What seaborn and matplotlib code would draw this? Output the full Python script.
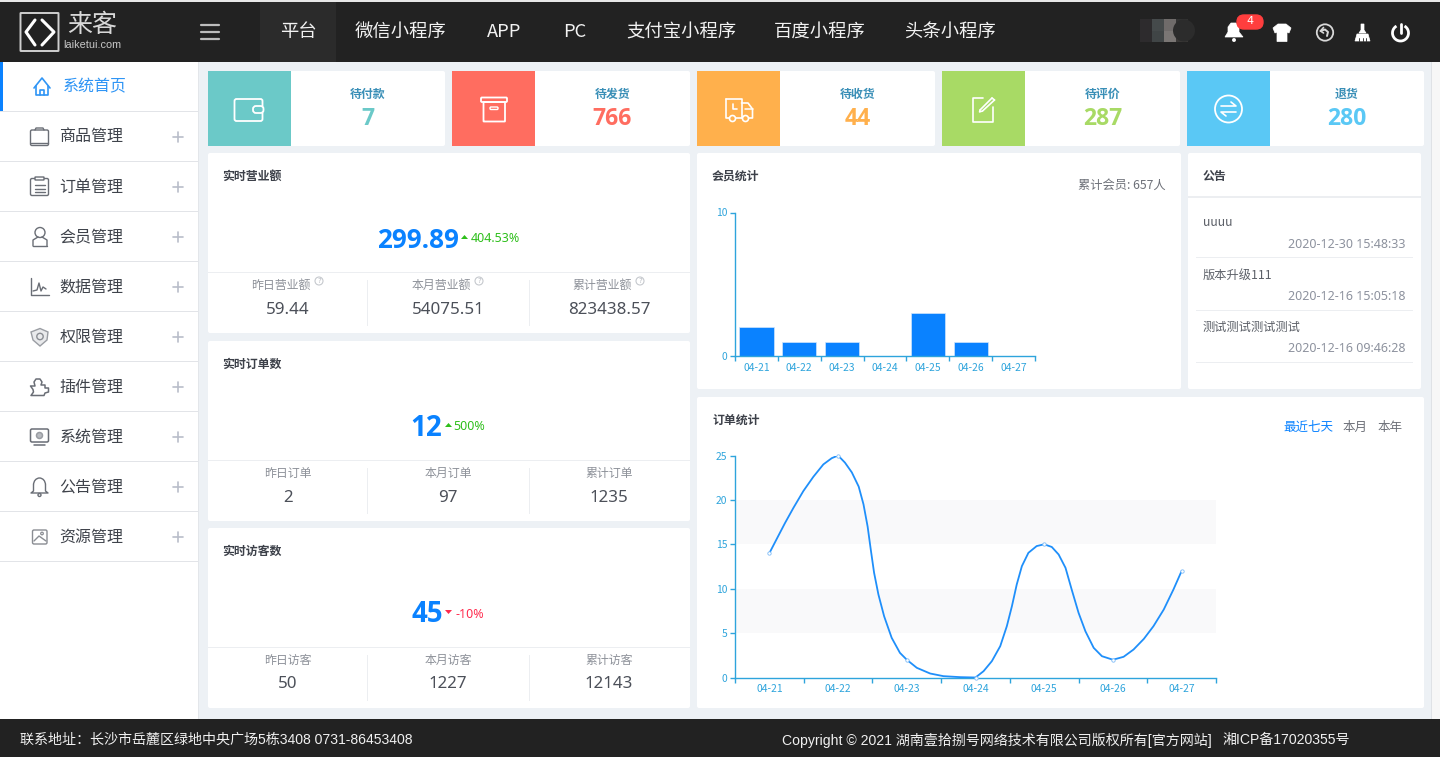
import matplotlib
matplotlib.use("Agg")
import matplotlib.pyplot as plt
from matplotlib.patches import Rectangle, FancyBboxPatch, Circle, Polygon, Arc
import numpy as np
import pandas as pd
import seaborn as sns

sns.set_theme(style="white")
plt.rcParams['font.family'] = ['Noto Sans CJK SC', 'DejaVu Sans']

# ---------- data ----------
days = ["04-21", "04-22", "04-23", "04-24", "04-25", "04-26", "04-27"]
member_counts = [2, 1, 1, 0, 3, 1, 0]
order_counts = [14, 25, 2, 0, 15, 2, 12]
# the smooth order curve (day index, orders)
curve_day = [0, .107, .228, .35, .495, .64, .786, .908, 1, 1.10, 1.20, 1.30, 1.37, 1.43, 1.476, 1.524, 1.587,
             1.67, 1.78, 1.90, 2, 2.146, 2.34, 2.534, 2.777, 3, 3.117, 3.238, 3.36, 3.456, 3.53, 3.60, 3.675,
             3.77, 3.89, 4, 4.11, 4.21, 4.31, 4.40, 4.50, 4.60, 4.72, 4.84, 5, 5.155, 5.30, 5.45, 5.59,
             5.74, 5.88, 6]
curve_orders = [14, 15.6, 17.4, 19.1, 21.0, 22.6, 24.0, 24.7, 25, 24.2, 23.1, 21.5, 19.5, 17.0, 14.4, 11.8, 9.35,
                6.9, 4.47, 2.78, 2, 1.09, .45, .15, .04, 0, .71, 1.84, 3.53, 5.78, 8.03, 10.47, 12.54,
                14.04, 14.8, 15, 14.7, 13.85, 12.35, 9.9, 7.28, 5.2, 3.34, 2.4, 2, 2.33, 3.15, 4.35, 5.78,
                7.66, 9.9, 12]
nav_items = ["平台", "微信小程序", "APP", "PC", "支付宝小程序", "百度小程序", "头条小程序"]
menu_items = ["系统首页", "商品管理", "订单管理", "会员管理", "数据管理", "权限管理", "插件管理", "系统管理", "公告管理", "资源管理"]
status_names = ["待付款", "待发货", "待收货", "待评价", "退货"]
status_values = ["7", "766", "44", "287", "280"]
status_colors = ["#6bc9c8", "#ff6d60", "#ffb04c", "#a8da65", "#5ac8f5"]
panel_titles = ["实时营业额", "实时订单数", "实时访客数"]
panel_main = ["299.89", "12", "45"]
panel_change = ["404.53%", "500%", "-10%"]
panel_labels = [["昨日营业额", "本月营业额", "累计营业额"], ["昨日订单", "本月订单", "累计订单"], ["昨日访客", "本月访客", "累计访客"]]
panel_values = [["59.44", "54075.51", "823438.57"], ["2", "97", "1235"], ["50", "1227", "12143"]]
notices = ["uuuu", "版本升级111", "测试测试测试测试"]
notice_times = ["2020-12-30 15:48:33", "2020-12-16 15:05:18", "2020-12-16 09:46:28"]

# ---------- page ----------
W, H = 1440, 757
PAGE = "#edf1f5"; DARK = "#222222"; BLUE = "#0a82ff"; TICK = "#2ea4dc"; TXT = "#4a4e57"
FOOT = ["Liberation Sans", "Noto Sans CJK SC"]
fig = plt.figure(figsize=(W / 100, H / 100), dpi=100, facecolor=PAGE)
bg = fig.add_axes([0, 0, 1, 1], zorder=0)
bg.set_xlim(0, W); bg.set_ylim(H, 0); bg.axis("off")


def rect(x0, y0, x1, y1, c, z=1):
    bg.add_patch(Rectangle((x0, y0), x1 - x0, y1 - y0, fc=c, ec="none", zorder=z))


def card(x0, y0, x1, y1):
    bg.add_patch(FancyBboxPatch((x0 + 2, y0 + 2), x1 - x0 - 4, y1 - y0 - 4, boxstyle="round,pad=2,rounding_size=2",
                                fc="white", ec="none", zorder=1))


def txt(x, y, s, size, c=TXT, ha="center", weight="normal", fam=None):
    kw = {"family": fam} if fam else {}
    bg.text(x, y, s, fontsize=size, color=c, ha=ha, va="center", weight=weight, zorder=5, **kw)


def line(xs, ys, c="white", lw=1.3, z=4):
    bg.plot(xs, ys, color=c, lw=lw, zorder=z, solid_capstyle="round", solid_joinstyle="round")


def box(x0, y0, x1, y1, c="white", lw=1.3, r=1.5, fill="none", z=4):
    bg.add_patch(FancyBboxPatch((x0, y0), x1 - x0, y1 - y0, boxstyle=f"round,pad=0,rounding_size={r}",
                                fc=fill, ec=c, lw=lw, zorder=z))


def circ(x, y, r, c="white", lw=1.3, fill="none", z=4):
    bg.add_patch(Circle((x, y), r, fc=fill, ec=c, lw=lw, zorder=z))


# header
rect(0, 0, W, 2, "#e8e8e8")
rect(0, 2, W, 62, DARK)
rect(260, 2, 336, 62, "#2b2b2b", 2)
# logo
box(20.5, 13, 58.5, 51, "#cfcfcf", 1.4, 0.5)
line([35, 26, 35], [20, 32, 45], "white", 2.2)
line([42, 54, 42], [20, 32, 45], "white", 2.2)
txt(92, 25, "来客", 18, "#d8d8d8", fam="Noto Sans CJK SC")
txt(63, 45.5, "laiketui.com", 7.8, "#c8c8c8", ha="left", fam="Liberation Sans")
for yy in (25, 32, 39):
    line([200.5, 219], [yy, yy], "#bdbdbd", 1.6)
for s, x in zip(nav_items, [298, 401, 504, 574.5, 681, 820, 950]):
    txt(x, 32, s, 13.2, "#f2f2f2")

# blurred user name
for x0, c1, c2 in [(1140, "#2d2b2d", "#2d2b2d"), (1152, "#454a4b", "#404546"),
                   (1164, "#6f6b6a", "#7a7674"), (1176, "#323232", "#3a3836")]:
    rect(x0, 19, x0 + 12, 31, c1, 2)
    rect(x0, 31, x0 + 12, 42, c2, 2)
bg.add_patch(Circle((1184, 30.5), 11, fc="#2c2c2c", ec="none", zorder=2))
# bell
bg.add_patch(Polygon([(1225, 37), (1228, 32), (1228, 27), (1231, 23), (1236, 23), (1239, 27), (1239, 32), (1243, 37)],
                     fc="white", ec="white", lw=0.5, zorder=4))
circ(1234, 40, 1.6, "white", 0.5, "white")
bg.add_patch(FancyBboxPatch((1237, 15), 26, 14, boxstyle="round,pad=0,rounding_size=7", fc="#ff3e3e", ec="#ff3e3e",
                            lw=1, zorder=5))
txt(1250, 21.5, "4", 8, "white", fam="DejaVu Sans")
# shirt
bg.add_patch(Polygon([(1273, 28), (1278, 24), (1286, 24), (1291, 28), (1289, 33), (1287, 32), (1287, 41.5), (1277, 41.5),
                      (1277, 32), (1275, 33)], fc="white", ec="white", lw=0.5, zorder=4))
# return
circ(1325, 32.5, 8.2, "#d8d8d8", 1.3)
line([1320.5, 1325, 1328, 1327], [31, 29.5, 32, 36], "#d8d8d8", 1.4)
line([1323.5, 1320.5, 1323.5], [27.5, 31, 33], "#d8d8d8", 1.2)
# broom
bg.add_patch(Polygon([(1357, 34), (1368, 34), (1370, 41), (1355, 41)], fc="white", ec="white", lw=0.5, zorder=4))
bg.add_patch(Polygon([(1359, 33), (1361, 30), (1361, 24), (1364, 24), (1364, 30), (1366, 33)], fc="white", ec="white", lw=0.5, zorder=4))
for xx in (1359, 1362.5, 1366):
    line([xx, xx], [38, 41], DARK, 0.6, 5)
# power
bg.add_patch(Arc((1400.5, 33), 16, 16, theta1=-60 + 0, theta2=240, angle=0, ec="white", lw=2, zorder=4))
line([1400.5, 1400.5], [24, 33], "white", 2)

# sidebar
rect(0, 62, 198, 719, "white")
rect(198, 62, 199, 719, "#e3e6ea", 2)
rect(0, 62, 3, 111, BLUE, 3)
for i, s in enumerate(menu_items):
    yc = 87 + 50 * i
    rect(0, 111 + 50 * i, 198, 112 + 50 * i, "#e2e4e8", 2)
    if i == 0:
        txt(63, yc, s, 11.5, "#2f95f5", ha="left")
    else:
        txt(59.5, yc, s, 11.5, "#3f434b", ha="left")
        line([173, 183], [yc, yc], "#b9bdc9", 1.2)
        line([178, 178], [yc - 5, yc + 5], "#b9bdc9", 1.2)
G = "#6a6e76"
# home
line([34, 42, 50], [88, 78, 88], "#2f95f5", 1.2)
line([36, 36, 48, 48], [86, 95, 95, 86], "#2f95f5", 1.2)
line([40, 40, 44, 44], [95, 90, 90, 95], "#2f95f5", 1.2)
# bag, clipboard, user, chart, shield, puzzle, monitor, bell, image
box(30.5, 130, 48.5, 145.5, G, 1)
line([35, 36, 43, 44], [130, 128, 128, 130], G, 1); line([31, 48], [142.5, 142.5], G, 1)
box(30.5, 178.5, 48.5, 195.5, G, 1); box(35, 177, 44, 180, G, 1, .5, "white")
for yy in (185, 188.5, 192):
    line([34.5, 45], [yy, yy], G, 1)
circ(40, 232.5, 5, G, 1); line([33, 33, 38], [246, 240, 237], G, 1); line([47, 47, 42], [246, 240, 237], G, 1)
line([33, 47], [246, 246], G, 1)
line([30.5, 30.5, 48.5], [278, 295, 295], G, 1); line([33, 37, 39, 41, 43, 46], [291, 290, 283, 291, 287, 289], G, 1)
bg.add_patch(Polygon([(31, 332), (40, 328.5), (48, 332), (47, 340), (40, 346), (33, 340)], fc="#e9eaec", ec="#9a9da3", lw=1, zorder=4))
circ(40, 336.5, 3.2, "#8a8d93", 1)
# puzzle outline
bg.add_patch(Polygon([(30.5, 386), (35, 386), (34, 382), (36, 379), (40, 379), (42, 382), (41, 385), (45, 385),
                      (45, 388), (48.5, 388), (48.5, 392), (45, 393), (44, 395.5), (31, 395.5), (33.5, 392), (33, 389.5)],
                     fc="white", ec=G, lw=1.1, joinstyle="round", zorder=4))
box(30.5, 429, 48.5, 442, G, 1.1); circ(39.5, 435.5, 3, "#9a9da3", 1.1, "#b8bbc0"); line([34, 45], [445, 445], G, 1.1)
bg.add_patch(Arc((39.5, 485), 12, 14, theta1=180, theta2=360, ec=G, lw=1, zorder=4))
line([33.5, 33.5, 31, 48, 45.5, 45.5], [485, 491, 493, 493, 491, 485], G, 1); circ(39.5, 495, 1.5, G, 1)
box(32.5, 530, 47, 544, "#8a8d93", 1); line([34, 39, 46], [541, 536, 541], "#8a8d93", 1); circ(42, 533.5, 1.3, "#8a8d93", 0.9)

# status cards
for i, (n, v, c, x0, x1) in enumerate(zip(status_names, status_values, status_colors,
                                          [208, 452, 697, 942, 1187], [445, 690, 935, 1180, 1424])):
    card(x0, 71, x1, 146)
    rect(x0, 71, x0 + 83, 146, c, 2)
    xc = (x0 + 83 + x1) / 2
    txt(xc, 94, n, 8.6, "#3a8fb7", weight="bold")
    txt(xc, 119, v, 16.6, c, weight="bold", fam="Open Sans")
# status icons
box(234.5, 99, 262.5, 121, "white", 1.3, 2); box(253, 106, 263.5, 113, "white", 1.3, 3, "#6bc9c8")
box(481, 97.5, 507, 102, "white", 1.3, 1); box(483.5, 102, 505, 121.5, "white", 1.3, 0.5)
box(490, 107, 498, 109.5, "white", 1, 1)
# truck
line([729, 725.5, 725.5], [118, 118, 99], "white", 1.2); line([725.5, 741.5, 741.5], [99, 99, 118], "white", 1.2)
line([736, 741.5], [118, 118], "white", 1.2); line([733, 733, 737], [104, 109, 109], "white", 1.2)
line([741.5, 748, 752.5, 752.5, 749], [103, 103, 109, 118, 118], "white", 1.2)
line([745, 752.5], [109, 109], "white", 1.1)
circ(732.5, 118.5, 3, "white", 1.2); circ(745.5, 118.5, 3, "white", 1.2)
# edit
line([983, 972.5, 972.5, 993, 993], [97.5, 97.5, 121.5, 121.5, 107], "white", 1.2)
line([980, 992], [110, 98], "white", 1.2); line([982.5, 994.5], [111, 100], "white", 1.2)
line([980, 979.5, 982.5], [110, 112, 111], "white", 1.1); line([992, 994.5], [98, 100], "white", 1.2)
circ(1228.5, 109, 13.5, "white", 1.3)
line([1221, 1236, 1231], [106, 106, 102], "white", 1.2); line([1236, 1221, 1226], [112, 112, 116], "white", 1.2)

# realtime panels
for i, (y0, t, m, ch) in enumerate(zip([153, 341, 528], panel_titles, panel_main, panel_change)):
    card(208, y0, 690, y0 + 180)
    txt(222, y0 + 23, t, 8.6, "#3c4049", ha="left", weight="bold")
    rect(208, y0 + 119, 690, y0 + 120, "#eceef1", 2)
    mx = [418, 426.5, 427][i]
    txt(mx, y0 + 87, m, [18.8, 20, 20][i], BLUE, weight="bold", fam="Open Sans")
    up = i < 2
    cc = "#2ebf1b" if up else "#ff2b4e"
    ax_ = [461, 445, 445][i]
    pts = [(ax_, y0 + 86), (ax_ + 7, y0 + 86), (ax_ + 3.5, y0 + 82)] if up else [(ax_, y0 + 82), (ax_ + 7, y0 + 82), (ax_ + 3.5, y0 + 86)]
    bg.add_patch(Polygon(pts, fc=cc, ec="none", zorder=5))
    txt(ax_ + [10, 8.5, 10.5][i], y0 + 86, ch, 9, cc, ha="left", fam="Noto Sans")
    for j, xc in enumerate([288, 448, 609]):
        txt(xc - (0 if i else 7), y0 + 132, panel_labels[i][j], 8.6, "#8d9199")
        txt(xc, y0 + 156.5, panel_values[i][j], 12.2, "#4c5059", fam="Noto Sans")
        if i == 0:
            circ(xc + 31, y0 + 128, 4, "#c6c9ce", 0.8)
            txt(xc + 31, y0 + 128, "?", 5, "#b8bbc1", fam="DejaVu Sans")
        if j:
            rect(xc - 81 + (1 if j == 2 else 0), y0 + 127, xc - 80 + (1 if j == 2 else 0), y0 + 173, "#eceef1", 2)

# member panel
card(697, 153, 1181, 389)
txt(712, 176, "会员统计", 8.6, "#3c4049", ha="left", weight="bold")
txt(1166, 185, "累计会员: 657人", 8.8, "#6d7078", ha="right")
# notices
card(1188, 153, 1421, 389)
txt(1203, 176, "公告", 8.6, "#3c4049", ha="left", weight="bold")
rect(1188, 196, 1421, 198, "#eceef1", 2)
for i, (n, t, yn) in enumerate(zip(notices, notice_times, [222, 275, 327])):
    txt(1203, yn, n, 8.8, "#5c6068", ha="left")
    txt(1405, yn + 22, t, 9, "#8d929e", ha="right", fam="Noto Sans")
    rect(1196, yn + 35, 1413, yn + 36, "#eceef1", 2)
# order panel
card(697, 397, 1424, 708)
txt(712, 420.5, "订单统计", 8.6, "#3c4049", ha="left", weight="bold")
txt(1308, 427.5, "最近七天", 9, BLUE)
txt(1355, 427.5, "本月", 9, "#6d7078")
txt(1390, 427.5, "本年", 9, "#6d7078")

# footer + scrollbar
rect(0, 719, W, H, DARK, 3)
txt(20, 740, "联系地址：长沙市岳麓区绿地中央广场5栋3408 0731-86453408", 10.1, "#f0f0f0", ha="left", fam=FOOT)
txt(782, 740, "Copyright © 2021 湖南壹拾捌号网络技术有限公司版权所有[官方网站]", 10.1, "#f0f0f0", ha="left", fam=FOOT)
txt(1222, 740, "湘ICP备17020355号", 10.1, "#f0f0f0", ha="left", fam=FOOT)
rect(1425, 62, 1432, 719, PAGE, 2)
rect(1432, 62, 1440, 719, "#f7f7f7", 2)
rect(1431, 62, 1432, 719, "#dfe2e6", 2)


def chart_axes(x0, y0, x1, y1):
    ax = fig.add_axes([x0 / W, 1 - y1 / H, (x1 - x0) / W, (y1 - y0) / H], zorder=3)
    ax.patch.set_alpha(0)
    for s in ("top", "right"):
        ax.spines[s].set_visible(False)
    for s in ("left", "bottom"):
        ax.spines[s].set_color(TICK); ax.spines[s].set_linewidth(1)
    return ax


def style_ticks(ax, yt):
    ax.set_xlim(-.5, 6.5)
    ax.set_xlabel(""); ax.set_ylabel("")
    ax.set_yticks(yt); ax.set_yticklabels([str(v) for v in yt])
    ax.set_xticks(np.arange(-.5, 7, 1)); ax.set_xticklabels([""] * 8)
    ax.set_xticks(range(7), minor=True); ax.set_xticklabels(days, minor=True)
    ax.tick_params(axis="x", which="major", length=3.5, width=1, color=TICK, bottom=True)
    ax.tick_params(axis="x", which="minor", length=0, pad=5, labelsize=7.4, labelcolor=TICK)
    ax.tick_params(axis="y", length=3.5, width=1, color=TICK, pad=2, labelsize=7.4, labelcolor=TICK, left=True)


# member bars
bar_ax = chart_axes(735, 212.5, 1035, 356)
sns.barplot(data=pd.DataFrame({"day": days, "n": member_counts}), x="day", y="n", ax=bar_ax, color=BLUE,
            saturation=1, width=.8, edgecolor="#cfe4fb", linewidth=0.5)
bar_ax.set_ylim(0, 10)
style_ticks(bar_ax, [0, 10])

# order curve
line_ax = chart_axes(735, 455.5, 1216, 677.5)
line_ax.set_ylim(0, 25)
for lo, hi in [(5, 10), (15, 20)]:
    line_ax.axhspan(lo, hi, color="#f9f9fa", lw=0, zorder=0)
sns.lineplot(x=curve_day, y=curve_orders, ax=line_ax, color="#1f8ffa", lw=1.3, errorbar=None, sort=False, zorder=3)
sns.scatterplot(x=range(7), y=order_counts, ax=line_ax, s=6, color="white", edgecolor="#7fbcf7", linewidth=0.6,
                zorder=4, clip_on=False)
style_ticks(line_ax, [0, 5, 10, 15, 20, 25])
line_ax.set_ylim(0, 25)

fig.savefig("out.png", dpi=100, facecolor=fig.get_facecolor())
